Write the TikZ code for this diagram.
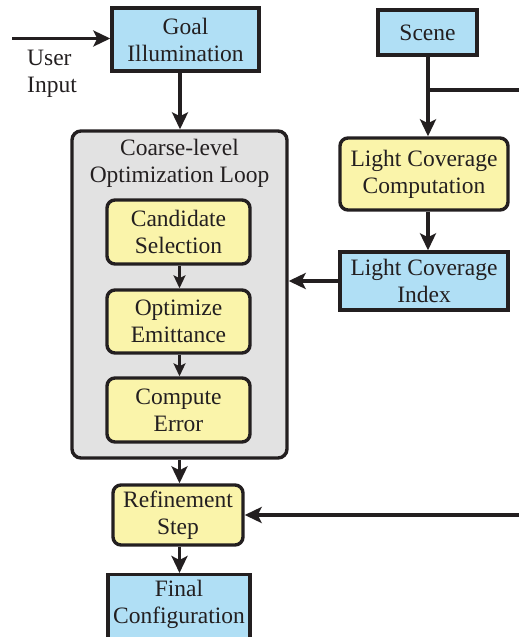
\documentclass[tikz,border=0pt]{standalone}
\usepackage{fontspec}
\setmainfont{Liberation Serif}
\usetikzlibrary{arrows.meta}
\definecolor{blueF}{RGB}{176,223,245}
\definecolor{yellowF}{RGB}{250,244,170}
\definecolor{grayF}{RGB}{226,226,226}
\definecolor{ink}{RGB}{35,31,32}
\tikzset{
  txt/.style={font=\fontsize{23.5}{27}\selectfont, align=center, text=ink, inner sep=0pt},
  bluebox/.style={txt, draw=ink, line width=3.4pt, fill=blueF},
  yelbox/.style={txt, draw=ink, line width=3.4pt, fill=yellowF, rounded corners=8pt},
  arr/.style={draw=ink, line width=3.2pt, -{Stealth[length=17pt,width=16pt,inset=4pt]}},
  sarr/.style={draw=ink, line width=2.6pt, -{Stealth[length=13pt,width=12pt,inset=3pt]}},
  ln/.style={draw=ink, line width=3.2pt}
}
\begin{document}
\begin{tikzpicture}[x=1pt,y=-1pt]
\useasboundingbox (0,0) rectangle (519,637);
\clip (0,0) rectangle (519,637);
% loop container
\node[draw=ink, line width=3.4pt, fill=grayF, rounded corners=9pt, minimum width=215pt, minimum height=327pt, inner sep=0pt] (loop) at (179.5,294.5) {};
\node[txt] (looptitle) at (179.5,163) {Coarse-level\\Optimization Loop};
\node[yelbox, minimum width=143pt, minimum height=64pt] (cand) at (178.5,232) {Candidate\\Selection};
\node[yelbox, minimum width=143pt, minimum height=63pt] (opt) at (178.5,321.5) {Optimize\\Emittance};
\node[yelbox, minimum width=143pt, minimum height=64pt] (comp) at (178.5,410) {Compute\\Error};
% top
\node[bluebox, minimum width=147pt, minimum height=63pt] (goal) at (185.5,39.5) {Goal\\Illumination};
\coordinate (uin) at (12,38.5);
\node[txt, anchor=west, align=left] (user) at (27,74) {User\\Input};
\node[bluebox, minimum width=99pt, minimum height=45pt] (scene) at (427.5,32.5) {Scene};
\node[yelbox, minimum width=168pt, minimum height=72pt] (lcc) at (424,174) {Light Coverage\\Computation};
\node[bluebox, minimum width=168pt, minimum height=58pt] (lci) at (424,281) {Light Coverage\\Index};
% bottom
\node[yelbox, minimum width=130pt, minimum height=60pt] (ref) at (178,515) {Refinement\\Step};
\node[bluebox, minimum width=142pt, minimum height=92pt, anchor=north] (final) at (179,573) {};
\node[txt] (finaltxt) at (179,604) {Final\\Configuration};
\coordinate (rin) at (519,515);
\coordinate (br) at (428,90);
\coordinate (brend) at (519,90);
\coordinate (xl) at (179.5,0);
\coordinate (xg) at (180,0);
\coordinate (xr) at (428,0);
% connectors
\draw[arr] (uin) -- (goal.west |- uin);
\draw[arr] (goal.south -| xg) -- (loop.north -| xg);
\draw[arr] (scene.south -| xr) -- (lcc.north -| xr);
\draw[ln] (br) -- (brend);
\draw[arr] (lcc.south -| xr) -- (lci.north -| xr);
\draw[arr] (lci.west) -- (lci.west -| loop.east);
\draw[sarr] (cand.south -| xl) -- (opt.north -| xl);
\draw[sarr] (opt.south -| xl) -- (comp.north -| xl);
\draw[arr] (loop.south -| xl) -- (ref.north -| xl);
\draw[arr] (ref.south -| xl) -- (final.north -| xl);
\draw[arr] (rin) -- (ref.east |- rin);
\end{tikzpicture}
\end{document}
